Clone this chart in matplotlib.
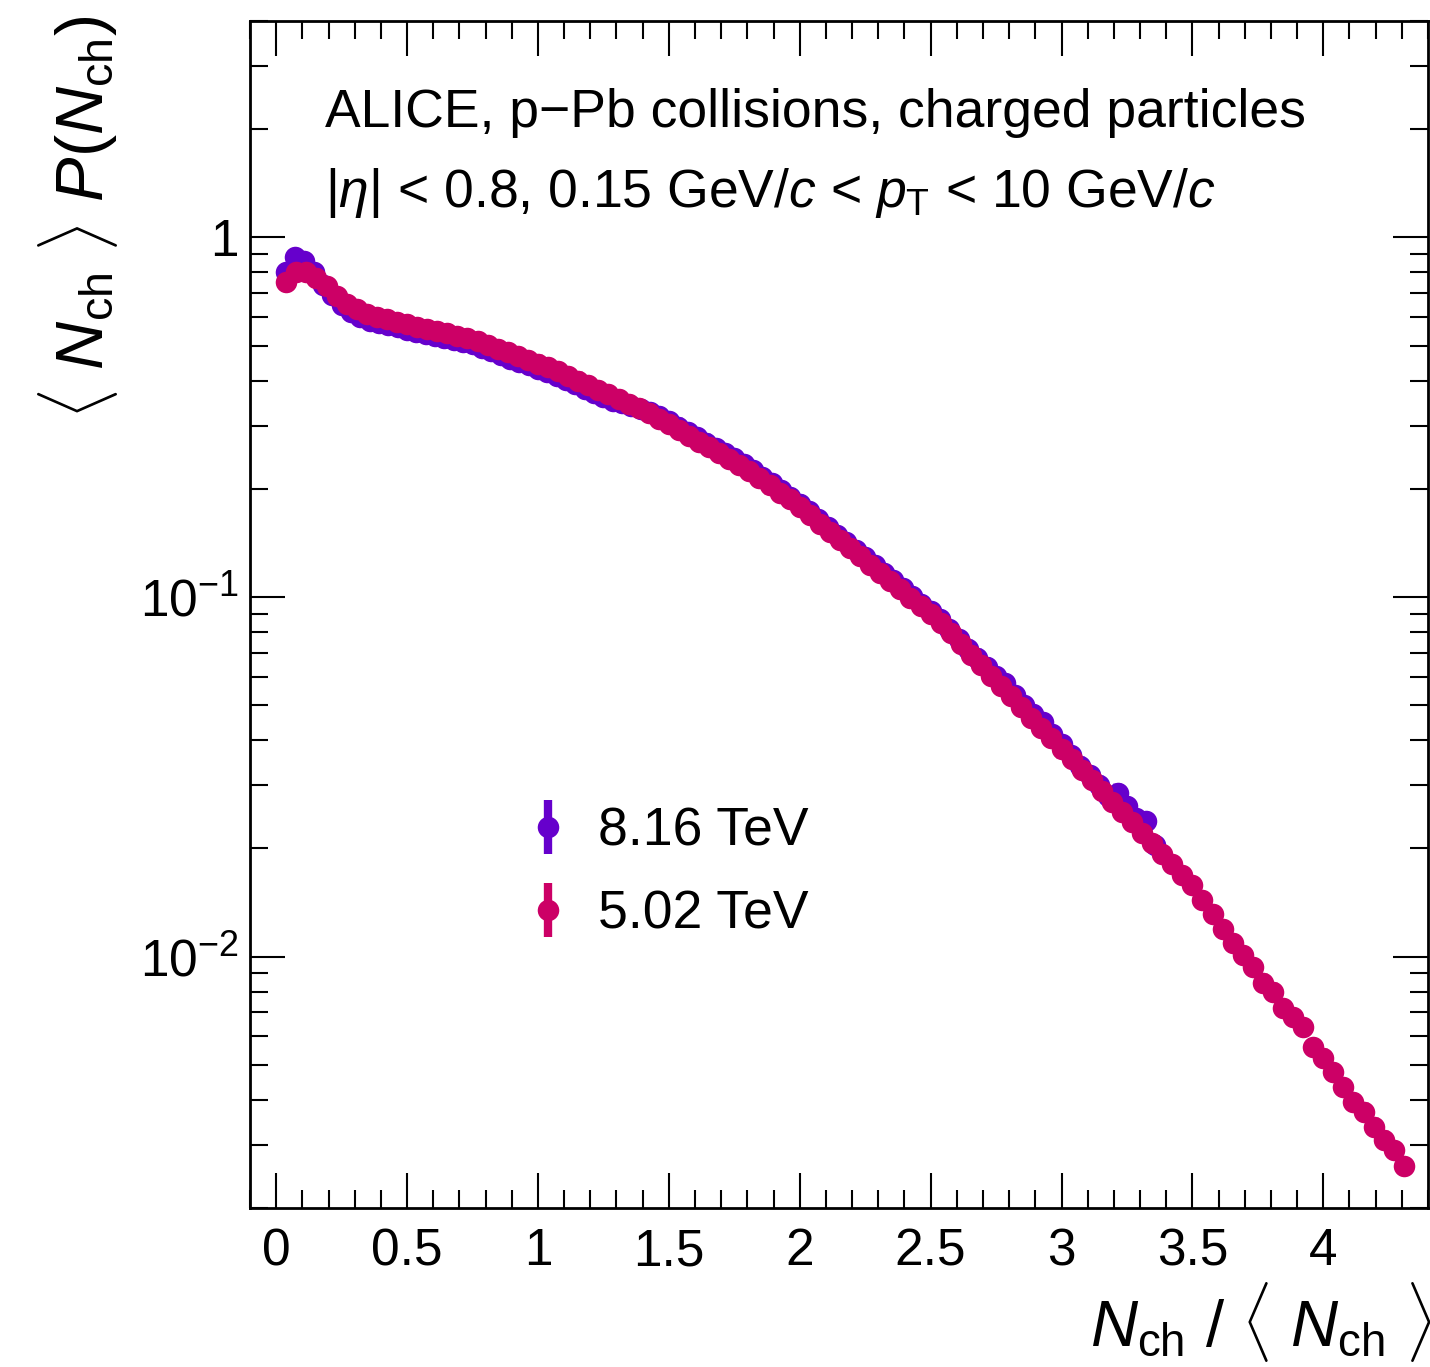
import numpy as np
import matplotlib
matplotlib.use("Agg")
import matplotlib.pyplot as plt
from matplotlib.ticker import MultipleLocator, LogLocator, FixedLocator, FixedFormatter, NullFormatter

plt.rcParams['font.family'] = ['Liberation Sans', 'DejaVu Sans']
plt.rcParams['mathtext.fontset'] = 'custom'
plt.rcParams['mathtext.rm'] = 'Liberation Sans'
plt.rcParams['mathtext.it'] = 'Liberation Sans:italic'
plt.rcParams['mathtext.bf'] = 'Liberation Sans:bold'

# multiplicity bins: Nch / <Nch>
nch_502 = np.arange(1, 113)
mean_nch_502 = 26.0
nch_816 = np.arange(1, 95)
mean_nch_816 = 28.0

# <Nch> P(Nch), 5.02 TeV
y_502 = [0.750, 0.800, 0.800, 0.771, 0.731, 0.686, 0.652, 0.631, 0.611, 0.601,
         0.592, 0.582, 0.573, 0.565, 0.557, 0.550, 0.541, 0.533, 0.526, 0.514,
         0.502, 0.490, 0.479, 0.467, 0.456, 0.446, 0.435, 0.425, 0.412, 0.400,
         0.388, 0.377, 0.366, 0.356, 0.345, 0.335, 0.325, 0.313, 0.302, 0.291,
         0.281, 0.270, 0.261, 0.251, 0.242, 0.233, 0.224, 0.214, 0.205, 0.195,
         0.187, 0.178, 0.169, 0.160, 0.152, 0.144, 0.137, 0.130, 0.123, 0.117,
         0.111, 0.105, 0.0995, 0.0944, 0.0895, 0.0847, 0.0793, 0.0741, 0.0692, 0.0647,
         0.0605, 0.0566, 0.0530, 0.0495, 0.0462, 0.0433, 0.0405, 0.0378, 0.0354, 0.0331,
         0.0309, 0.0289, 0.0270, 0.0253, 0.0237, 0.0221, 0.0207, 0.0193, 0.0181, 0.0169,
         0.0158, 0.0144, 0.0131, 0.0119, 0.0109, 0.0101, 0.00938, 0.00847, 0.00800, 0.00721,
         0.00681, 0.00638, 0.00562, 0.00524, 0.00479, 0.00433, 0.00395, 0.00371, 0.00337, 0.00310,
         0.00290, 0.00262]

# <Nch> P(Nch), 8.16 TeV
y_816 = [0.80, 0.88, 0.86, 0.80, 0.74, 0.69, 0.65, 0.62, 0.60, 0.587,
         0.579, 0.570, 0.562, 0.553, 0.546, 0.540, 0.532, 0.525, 0.519, 0.512,
         0.504, 0.492, 0.482, 0.471, 0.460, 0.451, 0.441, 0.432, 0.422, 0.412,
         0.402, 0.391, 0.380, 0.370, 0.360, 0.352, 0.346, 0.340, 0.333, 0.327,
         0.318, 0.308, 0.298, 0.288, 0.278, 0.269, 0.259, 0.251, 0.243, 0.234,
         0.225, 0.216, 0.207, 0.198, 0.190, 0.182, 0.173, 0.165, 0.157, 0.149,
         0.142, 0.135, 0.129, 0.1225, 0.1167, 0.1112, 0.1057, 0.1007, 0.0957, 0.0912,
         0.0867, 0.0817, 0.0766, 0.0719, 0.0679, 0.0641, 0.0603, 0.0575, 0.0535, 0.0501,
         0.0472, 0.0449, 0.0417, 0.0390, 0.0363, 0.0340, 0.0320, 0.0301, 0.0280, 0.0286,
         0.0262, 0.0243, 0.0238, 0.0205]

# relative uncertainties (stat., syst.)
stat_rel = 0.01
syst_rel_502 = 0.06
syst_rel_816 = 0.06

labels = ["8.16 TeV", "5.02 TeV"]
colors = ["#6600CC", "#CC0066"]

x_502 = nch_502 / mean_nch_502
x_816 = nch_816 / mean_nch_816
y_502 = np.array(y_502)
y_816 = np.array(y_816)

fig = plt.figure(figsize=(14.30, 13.67), dpi=100)
ax = fig.add_axes([250 / 1430, 1 - 1208 / 1367, 1178 / 1430, (1208 - 21) / 1367])

handles = []
for x, y, syst, col in [(x_816, y_816, syst_rel_816, colors[0]),
                        (x_502, y_502, syst_rel_502, colors[1])]:
    width = x[1] - x[0]
    ax.bar(x, 2 * syst * y, bottom=y * (1 - syst), width=width,
           color=col, alpha=0.3, linewidth=0, zorder=2)
    h = ax.errorbar(x, y, yerr=stat_rel * y, fmt='o', color=col, ms=15.5,
                    mew=0, elinewidth=6, capsize=0, zorder=3)
    handles.append(h)

ax.set_yscale('log')
ax.set_xlim(-0.1, 4.4)
ax.set_ylim(0.002, 4.0)

ax.xaxis.set_minor_locator(MultipleLocator(0.1))
ax.set_xticks([0, 0.5, 1, 1.5, 2, 2.5, 3, 3.5, 4])
ax.set_xticklabels(["0", "0.5", "1", "1.5", "2", "2.5", "3", "3.5", "4"])
ax.yaxis.set_major_locator(FixedLocator([0.01, 0.1, 1]))
ax.yaxis.set_major_formatter(FixedFormatter([r"$10^{-2}$", r"$10^{-1}$", "1"]))
ax.yaxis.set_minor_locator(LogLocator(base=10, subs=np.arange(2, 10)))
ax.yaxis.set_minor_formatter(NullFormatter())

ax.tick_params(which='both', direction='in', top=True, right=True, width=1.5, labelsize=37)
ax.tick_params(which='major', length=25)
ax.tick_params(which='minor', length=13)
ax.tick_params(axis='x', pad=14)
ax.tick_params(axis='y', pad=8)
for s in ax.spines.values():
    s.set_linewidth(2)

ax.text(0.0637, 0.9107, "ALICE, p\u2212Pb collisions, charged particles",
        transform=ax.transAxes, fontsize=38.5, va='baseline', ha='left')
ax.text(0.0637, 0.8433,
        r"$|\eta|$ < 0.8, 0.15 GeV/$c$ < $p_{\mathrm{T}}$ < 10 GeV/$c$",
        transform=ax.transAxes, fontsize=38.5, va='baseline', ha='left')

fig.text(1432 / 1430, 1 - 1280 / 1367,
         r"$N_{\mathrm{ch}}\ /\ \langle\ N_{\mathrm{ch}}\ \rangle$",
         fontsize=47, ha='right', va='top')
fig.text(78 / 1430, 1 - 16 / 1367,
         r"$\langle\ N_{\mathrm{ch}}\ \rangle\ P(N_{\mathrm{ch}})$",
         fontsize=48, ha='center', va='top', rotation=90)

ax.legend(handles, labels, loc='upper left', bbox_to_anchor=(0.239, 0.338),
          frameon=False, fontsize=38.5, handlelength=0.6, handletextpad=0.64,
          labelspacing=0.62, borderpad=0, borderaxespad=0)

fig.savefig("out.png", dpi=100)
